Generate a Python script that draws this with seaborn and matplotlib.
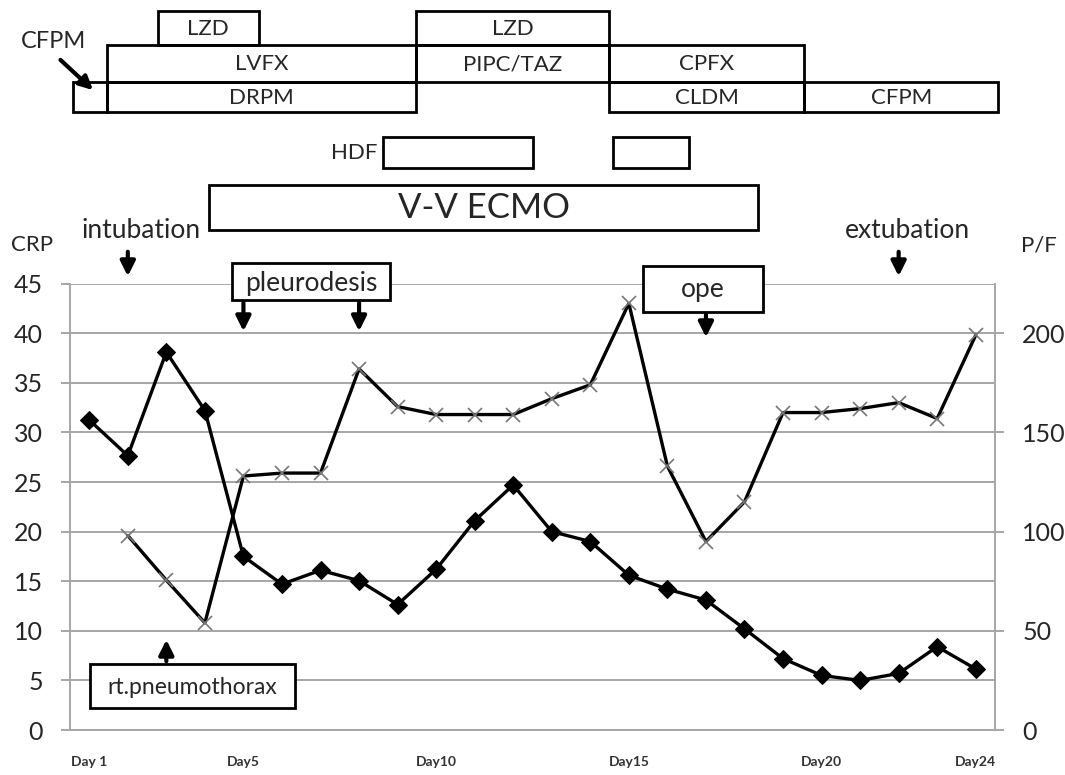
import matplotlib
matplotlib.use('Agg')
import matplotlib.pyplot as plt
import numpy as np
import seaborn as sns
from matplotlib.patches import Rectangle

# ---- data ----
days = list(range(1, 25))
crp = [31.25, 27.65, 38.1, 32.2, 17.5, 14.7, 16.1, 15.05, 12.65, 16.2, 21.1, 24.7,
       20.0, 19.0, 15.6, 14.2, 13.1, 10.2, 7.2, 5.5, 5.0, 5.7, 8.4, 6.15]
pf = [np.nan, 98, 75.5, 54, 128, 129.5, 129.5, 182, 163, 159, 159, 159,
      167, 174, 215, 133, 95, 115, 160, 160, 162, 165, 157, 199]
day_labels = {1: 'Day 1', 5: 'Day5', 10: 'Day10', 15: 'Day15', 20: 'Day20', 24: 'Day24'}

# antibiotic courses: name, start day, end day, row (0 = top)
drug_names = ['LZD', 'LZD', 'LVFX', 'PIPC/TAZ', 'CPFX', '', 'DRPM', 'CLDM', 'CFPM']
drug_start = [2.78, 9.48, 1.46, 9.48, 14.49, 0.58, 1.46, 14.49, 19.55]
drug_end = [5.40, 14.49, 9.48, 14.49, 19.55, 1.46, 9.48, 19.55, 24.58]
drug_row = [0, 0, 1, 1, 1, 2, 2, 2, 2]

hdf_start = [8.62, 14.59]
hdf_end = [12.51, 16.56]
ecmo_span = (4.11, 18.35)

events = {'intubation': 2, 'extubation': 22}
pleurodesis_days = [5, 8]
ope_day = 17
pneumothorax_day = 3

# ---- figure ----
W, H = 1065, 775
sns.set_style('white')
plt.rcParams['font.family'] = ['Lato', 'DejaVu Sans']
fig = plt.figure(figsize=(W / 100, H / 100), dpi=100)

L, R, B, T = 70, 995, 730, 283.6
ax = fig.add_axes([L / W, 1 - B / H, (R - L) / W, (B - T) / H])
grid_c = '#a6a6a6'

sns.lineplot(x=days, y=crp, ax=ax, color='black', lw=2.4, marker='D',
             markersize=9, markeredgecolor='black', zorder=3)
ax.set_xlim(0.5, 24.5)
ax.set_ylim(0, 45)
ax.set_yticks(range(0, 46, 5))
ax.yaxis.grid(True, color=grid_c, lw=1.4)
ax.set_axisbelow(True)
for s in ['top', 'right']:
    ax.spines[s].set_visible(False)
for s in ['left', 'bottom']:
    ax.spines[s].set_color(grid_c)
    ax.spines[s].set_linewidth(1.4)
ax.tick_params(axis='y', length=6.5, width=1.4, color=grid_c, labelsize=18, pad=13)
ax.set_xticks(list(day_labels.keys()))
ax.set_xticklabels(list(day_labels.values()), fontsize=10, fontweight='bold', color='#333333')
ax.set_xticks(np.arange(0.5, 25, 1), minor=True)
ax.tick_params(axis='x', which='major', length=0, pad=19)
ax.tick_params(axis='x', which='minor', length=8, width=1.4, color=grid_c)
ax.set_xlabel('')
ax.set_ylabel('')

ax2 = ax.twinx()
sns.lineplot(x=days, y=pf, ax=ax2, color='black', lw=2.4, marker='x',
             markersize=10, markeredgecolor='#777777', markeredgewidth=1.2, zorder=3)
ax2.set_ylim(0, 225)
ax2.set_yticks(range(0, 201, 50))
ax2.grid(False)
for s in ['top', 'left', 'bottom']:
    ax2.spines[s].set_visible(False)
ax2.spines['right'].set_color(grid_c)
ax2.spines['right'].set_linewidth(1.4)
ax2.tick_params(axis='y', length=6.5, width=1.4, color=grid_c, labelsize=18, pad=13)
ax2.set_ylabel('')

# ---- overlay: x in days, y in pixels from top ----
ov = fig.add_axes([L / W, 0, (R - L) / W, 1], facecolor='none')
ov.set_xlim(0.5, 24.5)
ov.set_ylim(H, 0)
ov.axis('off')

box_lw = 2.0
row_y = [(11, 45), (45, 82), (82, 112)]
for name, s, e, r in zip(drug_names, drug_start, drug_end, drug_row):
    y0, y1 = row_y[r]
    ov.add_patch(Rectangle((s, y0), e - s, y1 - y0, fill=False, lw=box_lw, ec='black', clip_on=False))
    if name:
        ov.text((s + e) / 2, (y0 + y1) / 2 + 1, name, ha='center', va='center', fontsize=16)

ov.text(0.08, 42, 'CFPM', ha='center', va='center', fontsize=17, clip_on=False)
ov.annotate('', xy=(1.15, 92), xytext=(0.2, 58),
            arrowprops=dict(arrowstyle='-|>', lw=3, color='black', mutation_scale=20),
            annotation_clip=False)

for s, e in zip(hdf_start, hdf_end):
    ov.add_patch(Rectangle((s, 137), e - s, 31, fill=False, lw=box_lw, ec='black'))
ov.text(hdf_start[0] - 0.15, 153, 'HDF', ha='right', va='center', fontsize=16)

ov.add_patch(Rectangle((ecmo_span[0], 185), ecmo_span[1] - ecmo_span[0], 45,
                       fill=False, lw=box_lw, ec='black'))
ov.text(sum(ecmo_span) / 2, 208, 'V-V ECMO', ha='center', va='center', fontsize=25)

arrow = dict(arrowstyle='-|>', lw=3, color='black', mutation_scale=22)
ov.text(2.34, 230, 'intubation', ha='center', va='center', fontsize=19)
ov.annotate('', xy=(events['intubation'], 279), xytext=(events['intubation'], 249), arrowprops=arrow)
ov.text(22.24, 230, 'extubation', ha='center', va='center', fontsize=19)
ov.annotate('', xy=(events['extubation'], 279), xytext=(events['extubation'], 249), arrowprops=arrow)

ov.text(-0.48, 245, 'CRP', ha='center', va='center', fontsize=16, clip_on=False)
ov.text(25.64, 245, 'P/F', ha='center', va='center', fontsize=16, clip_on=False)

ov.add_patch(Rectangle((4.7, 263), 4.1, 37, fc='white', lw=box_lw, ec='black'))
ov.text(6.75, 283, 'pleurodesis', ha='center', va='center', fontsize=19)
for d in pleurodesis_days:
    ov.annotate('', xy=(d, 334), xytext=(d, 300), arrowprops=arrow)

ov.add_patch(Rectangle((15.37, 266), 3.1, 46, fc='white', lw=box_lw, ec='black'))
ov.text(16.92, 290, 'ope', ha='center', va='center', fontsize=19)
ov.annotate('', xy=(ope_day, 340), xytext=(ope_day, 312), arrowprops=arrow)

ov.add_patch(Rectangle((1.02, 664), 5.32, 44, fc='white', lw=box_lw, ec='black'))
ov.text(3.68, 688, 'rt.pneumothorax', ha='center', va='center', fontsize=16.5)
ov.annotate('', xy=(pneumothorax_day, 637), xytext=(pneumothorax_day, 664), arrowprops=arrow)

fig.savefig('out.png', dpi=100)
